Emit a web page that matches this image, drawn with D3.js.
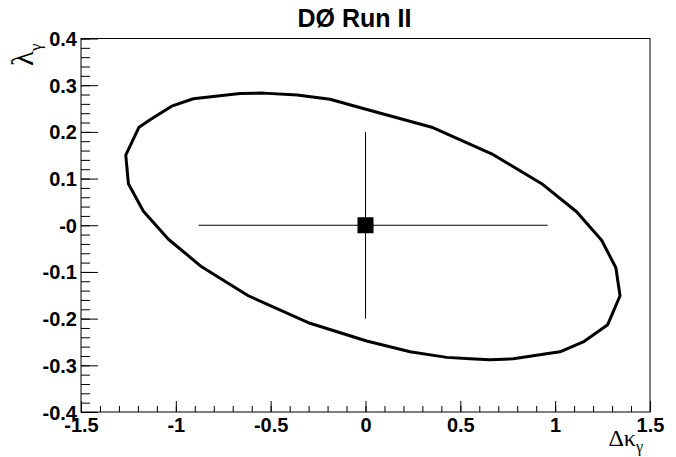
<!DOCTYPE html>
<html><head><meta charset="utf-8">
<script src="https://cdn.jsdelivr.net/npm/d3@7"></script>
<style>body{margin:0;background:#fff}svg{display:block}</style>
</head><body>
<script>
// Contour (Δκγ, λγ) vertices
const contourX = [-1.264,-1.194,-1.136,-1.022,-0.908,-0.662,-0.539,-0.36,-0.187,-0.012,0.349,0.665,0.929,1.113,1.245,1.320,1.342,1.277,1.148,1.025,0.779,0.656,0.551,0.428,0.235,0.006,-0.293,-0.618,-0.864,-1.039,-1.171,-1.250];
const contourY = [0.150,0.210,0.226,0.255,0.271,0.282,0.283,0.279,0.270,0.250,0.210,0.153,0.089,0.029,-0.032,-0.091,-0.151,-0.213,-0.250,-0.271,-0.286,-0.288,-0.286,-0.283,-0.271,-0.248,-0.210,-0.151,-0.089,-0.030,0.030,0.089];
// central value and errors
const centerX = [0.0];
const centerY = [0.0];
const errXLow = [0.88], errXHigh = [0.96];
const errYLow = [0.20], errYHigh = [0.20];
const xTicks = [-1.5,-1,-0.5,0,0.5,1,1.5];
const xTickLabels = ["-1.5","-1","-0.5","0","0.5","1","1.5"];
const yTicks = [-0.4,-0.3,-0.2,-0.1,0,0.1,0.2,0.3,0.4];
const yTickLabels = ["-0.4","-0.3","-0.2","-0.1","-0","0.1","0.2","0.3","0.4"];
const titleText = "DØ Run II";

const W = 676, H = 457;
const L = 81, R = 650, T = 38.5, B = 412;
const svg = d3.select("body").append("svg").attr("width", W).attr("height", H);
const x = d3.scaleLinear().domain([-1.5, 1.5]).range([L, R]);
const y = d3.scaleLinear().domain([-0.4, 0.4]).range([B, T]);
const font = "'Liberation Sans', Arial, Helvetica, sans-serif";
const serif = "'Liberation Serif', 'Times New Roman', serif";

// frame
svg.append("rect").attr("x", L).attr("y", T).attr("width", R - L).attr("height", B - T)
  .attr("fill", "none").attr("stroke", "#000").attr("stroke-width", 1);

// minor ticks
const xMinor = d3.range(-1.5, 1.5001, 0.1).map(v => +v.toFixed(2));
const yMinor = d3.range(-0.4, 0.4001, 0.02).map(v => +v.toFixed(3));
svg.append("g").attr("transform", `translate(0,${B})`)
  .call(d3.axisBottom(x).tickValues(xMinor).tickSize(-6).tickFormat(""))
  .call(g => g.select(".domain").remove());
svg.append("g").attr("transform", `translate(${L},0)`)
  .call(d3.axisLeft(y).tickValues(yMinor).tickSize(-9).tickFormat(""))
  .call(g => g.select(".domain").remove());

// major ticks and labels
const gx = svg.append("g").attr("transform", `translate(0,${B})`)
  .call(d3.axisBottom(x).tickValues(xTicks).tickSize(-11).tickFormat((d, i) => xTickLabels[i]));
gx.select(".domain").remove();
gx.selectAll("text").attr("y", 20).attr("dy", 0)
  .attr("font-family", font).attr("font-weight", "bold").attr("font-size", 20).attr("fill", "#000");

const gy = svg.append("g").attr("transform", `translate(${L},0)`)
  .call(d3.axisLeft(y).tickValues(yTicks).tickSize(-17).tickPadding(4).tickFormat((d, i) => yTickLabels[i]));
gy.select(".domain").remove();
gy.selectAll("text").attr("dy", "0.35em")
  .attr("font-family", font).attr("font-weight", "bold").attr("font-size", 20).attr("fill", "#000");
svg.selectAll(".tick line").attr("stroke", "#000").attr("stroke-width", 1);

// contour
const pts = contourX.map((v, i) => [v, contourY[i]]);
svg.append("path")
  .attr("d", d3.line().x(d => x(d[0])).y(d => y(d[1])).curve(d3.curveLinearClosed)(pts))
  .attr("fill", "none").attr("stroke", "#000").attr("stroke-width", 3).attr("stroke-linejoin", "round");

// error bars
centerX.forEach((cx, i) => {
  const cy = centerY[i];
  svg.append("line").attr("x1", x(cx - errXLow[i])).attr("x2", x(cx + errXHigh[i]))
    .attr("y1", y(cy)).attr("y2", y(cy)).attr("stroke", "#000").attr("stroke-width", 1);
  svg.append("line").attr("x1", x(cx)).attr("x2", x(cx))
    .attr("y1", y(cy - errYLow[i])).attr("y2", y(cy + errYHigh[i])).attr("stroke", "#000").attr("stroke-width", 1);
  svg.append("rect").attr("x", x(cx) - 8).attr("y", y(cy) - 8).attr("width", 16).attr("height", 16).attr("fill", "#000");
});

// title
svg.append("text").attr("x", 354.5).attr("y", 27).attr("text-anchor", "middle")
  .attr("font-family", font).attr("font-weight", "bold").attr("font-size", 25).text(titleText);

// x axis title Δκγ
const xt = svg.append("text").attr("x", 643).attr("y", 446).attr("text-anchor", "end")
  .attr("font-family", serif).attr("font-size", 24);
xt.append("tspan").text("Δκ");
xt.append("tspan").attr("font-size", 16).attr("dy", 6).text("γ");

// y axis title λγ
const yt = svg.append("text").attr("transform", "translate(33,66) rotate(-90)").attr("text-anchor", "start")
  .attr("font-family", serif).attr("font-size", 31);
yt.append("tspan").text("λ");
yt.append("tspan").attr("font-size", 17).attr("dy", 8).text("γ");
</script>
</body></html>
